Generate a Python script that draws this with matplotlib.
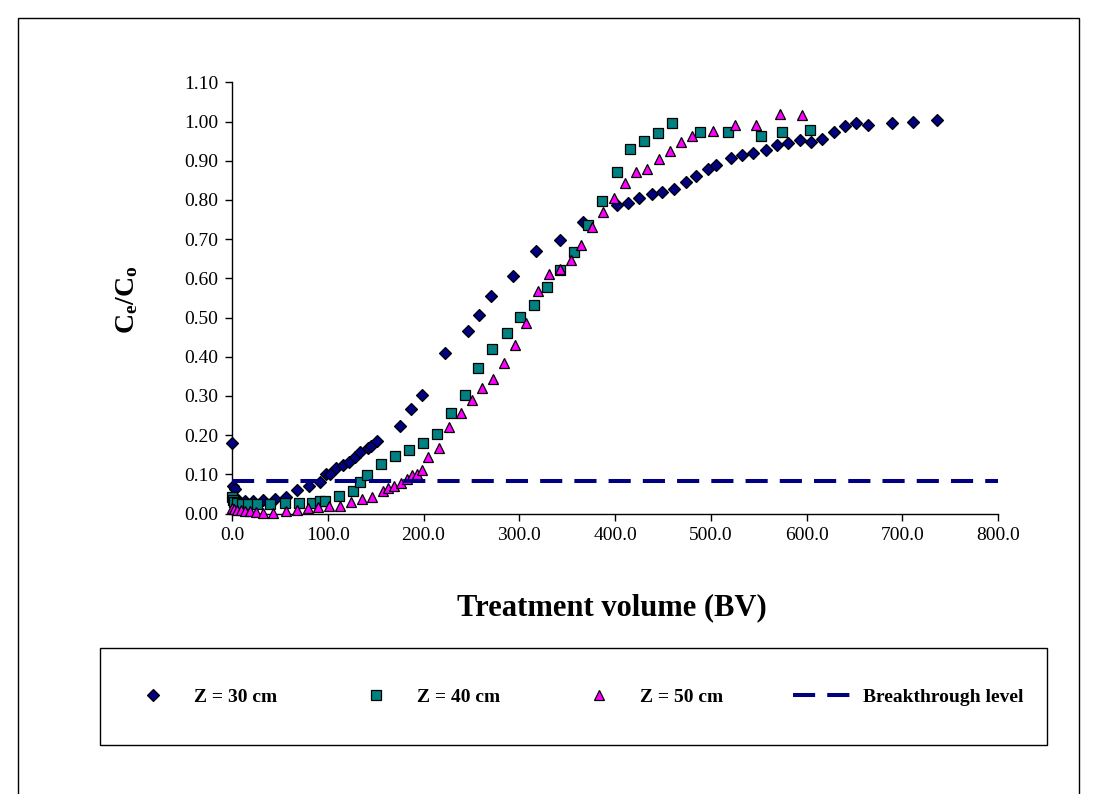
import matplotlib
matplotlib.use("Agg")
import matplotlib.pyplot as plt
from matplotlib.patches import Rectangle

plt.rcParams['font.family'] = ['Liberation Serif', 'DejaVu Serif']
plt.rcParams['mathtext.fontset'] = 'custom'
plt.rcParams['mathtext.rm'] = 'Liberation Serif'
plt.rcParams['mathtext.bf'] = 'Liberation Serif:bold'
plt.rcParams['mathtext.it'] = 'Liberation Serif:italic'

# ---------------- data ----------------
bv_30 = [0, 1, 3, 6.6, 13.6, 22, 32, 45, 56, 67.5, 80, 92, 98, 102, 109, 115.6,
         122.5, 128.5, 133.7, 142, 145, 151.7, 175.5, 187, 198, 222.8, 246.8,
         258, 271, 293.8, 318, 342.6, 366.5, 402.5, 413.8, 425.2, 438.3, 449.4,
         462, 473.8, 484.6, 497.5, 505.5, 520.8, 533, 544.5, 557.7, 568.8,
         580.3, 593.2, 604.4, 615.8, 629, 640.2, 651.4, 664.6, 689, 711.6, 736]
ce_30 = [0.18, 0.07, 0.062, 0.034, 0.033, 0.033, 0.034, 0.036, 0.043, 0.06,
         0.07, 0.081, 0.10, 0.10, 0.115, 0.123, 0.132, 0.145, 0.156, 0.167,
         0.173, 0.184, 0.222, 0.266, 0.303, 0.41, 0.466, 0.507, 0.556, 0.605,
         0.669, 0.698, 0.743, 0.787, 0.793, 0.805, 0.816, 0.82, 0.829, 0.845,
         0.862, 0.878, 0.889, 0.906, 0.914, 0.919, 0.927, 0.939, 0.944, 0.952,
         0.948, 0.956, 0.973, 0.988, 0.997, 0.992, 0.997, 1.0, 1.004]

bv_40 = [0, 1, 2, 5, 10, 17, 26, 40, 55.5, 70, 84, 91.5, 97.5, 112, 126.2,
         134.2, 140.8, 155.5, 170.1, 184.8, 199, 213.8, 228.2, 243, 257.3, 272,
         286.8, 301, 315.6, 328.6, 343, 357.3, 372, 386.8, 401.8, 415.7, 430.3,
         444.6, 459.8, 488.8, 518.3, 552.5, 574, 603.7]
ce_40 = [0.042, 0.035, 0.03, 0.026, 0.024, 0.023, 0.023, 0.023, 0.027, 0.028,
         0.028, 0.031, 0.032, 0.044, 0.057, 0.081, 0.097, 0.126, 0.146, 0.162,
         0.179, 0.203, 0.257, 0.302, 0.37, 0.419, 0.46, 0.501, 0.533, 0.578,
         0.62, 0.667, 0.735, 0.798, 0.872, 0.929, 0.95, 0.97, 0.995, 0.974,
         0.974, 0.962, 0.974, 0.978]

bv_50 = [0, 2, 5, 9, 14, 19, 25, 32, 43, 56, 68, 79.5, 90.3, 101.6, 113, 124.3,
         135.6, 146.7, 158, 163.3, 169, 176, 183, 187.7, 193.5, 198.8, 205, 216,
         227, 238.8, 250.3, 261.4, 273, 284, 295.2, 306.7, 319.7, 331.2, 342.6,
         353.7, 365, 376.3, 387.8, 399.2, 410.4, 421.8, 433, 445.9, 457.4,
         468.6, 480, 502.7, 525.3, 547.5, 572.3, 595]
ce_50 = [0.015, 0.012, 0.01, 0.008, 0.006, 0.006, 0.005, 0.002, 0.001, 0.007,
         0.009, 0.014, 0.017, 0.02, 0.02, 0.03, 0.038, 0.042, 0.058, 0.066,
         0.07, 0.077, 0.087, 0.097, 0.102, 0.11, 0.143, 0.168, 0.22, 0.257,
         0.29, 0.319, 0.343, 0.384, 0.43, 0.485, 0.567, 0.61, 0.624, 0.647,
         0.686, 0.731, 0.77, 0.804, 0.843, 0.87, 0.878, 0.905, 0.926, 0.947,
         0.963, 0.975, 0.992, 0.992, 1.02, 1.016]

breakthrough_bv = [0, 800]
breakthrough_level = [0.082, 0.082]

series_labels = ["Z = 30 cm", "Z = 40 cm", "Z = 50 cm", "Breakthrough level"]
x_ticks = [0, 100, 200, 300, 400, 500, 600, 700, 800]
x_tick_labels = ["0.0", "100.0", "200.0", "300.0", "400.0", "500.0", "600.0", "700.0", "800.0"]
y_ticks = [0.0, 0.1, 0.2, 0.3, 0.4, 0.5, 0.6, 0.7, 0.8, 0.9, 1.0, 1.1]
y_tick_labels = ["0.00", "0.10", "0.20", "0.30", "0.40", "0.50", "0.60", "0.70",
                 "0.80", "0.90", "1.00", "1.10"]

# ---------------- layout ----------------
W, H = 1097, 794
fig = plt.figure(figsize=(W / 100, H / 100), dpi=100)
fig.patch.set_facecolor("white")


def fx(px):
    return px / W


def fy(py):
    return 1 - py / H


ax = fig.add_axes([fx(232), fy(513.5), fx(998) - fx(232), fy(82.3) - fy(513.5)])

l30, = ax.plot(bv_30, ce_30, linestyle="none", marker="D", ms=6.6,
               mfc="#000080", mec="black", mew=0.9, clip_on=False, zorder=3)
l40, = ax.plot(bv_40, ce_40, linestyle="none", marker="s", ms=6.6,
               mfc="#008080", mec="black", mew=0.9, clip_on=False, zorder=4)
l50, = ax.plot(bv_50, ce_50, linestyle="none", marker="^", ms=7.8,
               mfc="#FF00FF", mec="black", mew=0.9, clip_on=False, zorder=5)
lbt, = ax.plot(breakthrough_bv, breakthrough_level, color="#000080", lw=2.9,
               dashes=(5.5, 3.0), clip_on=False, zorder=6)

ax.set_xlim(0, 800)
ax.set_ylim(0, 1.1)
ax.set_xticks(x_ticks)
ax.set_xticklabels(x_tick_labels)
ax.set_yticks(y_ticks)
ax.set_yticklabels(y_tick_labels)
for s in ["top", "right"]:
    ax.spines[s].set_visible(False)
for s in ["left", "bottom"]:
    ax.spines[s].set_color("black")
    ax.spines[s].set_linewidth(1.0)
ax.tick_params(direction="out", length=5, width=1, labelsize=14, pad=5,
               colors="black")

fig.text(fx(612), fy(608), "Treatment volume (BV)", ha="center", va="center",
         fontsize=22, fontweight="bold")
fig.text(fx(127), fy(300), r"C$_{\mathbf{e}}$/C$_{\mathbf{o}}$", ha="center",
         va="center", rotation=90, fontsize=20, fontweight="bold")

# outer chart border
fig.add_artist(Rectangle((fx(18), fy(805)), fx(1079) - fx(18), fy(18) - fy(805),
                         transform=fig.transFigure, fill=False, ec="black", lw=1.0))
# legend box
fig.add_artist(Rectangle((fx(100), fy(745)), fx(1047) - fx(100), fy(648) - fy(745),
                         transform=fig.transFigure, fill=False, ec="black", lw=1.0))

fig.legend(handles=[l30, l40, l50, lbt], labels=series_labels, loc="center",
           bbox_to_anchor=(fx(574), fy(697)), ncol=4, frameon=False,
           prop=dict(weight="bold", size=14), handlelength=3.0,
           handletextpad=0.6, columnspacing=3.6)

fig.savefig("out.png", dpi=100, facecolor="white")
